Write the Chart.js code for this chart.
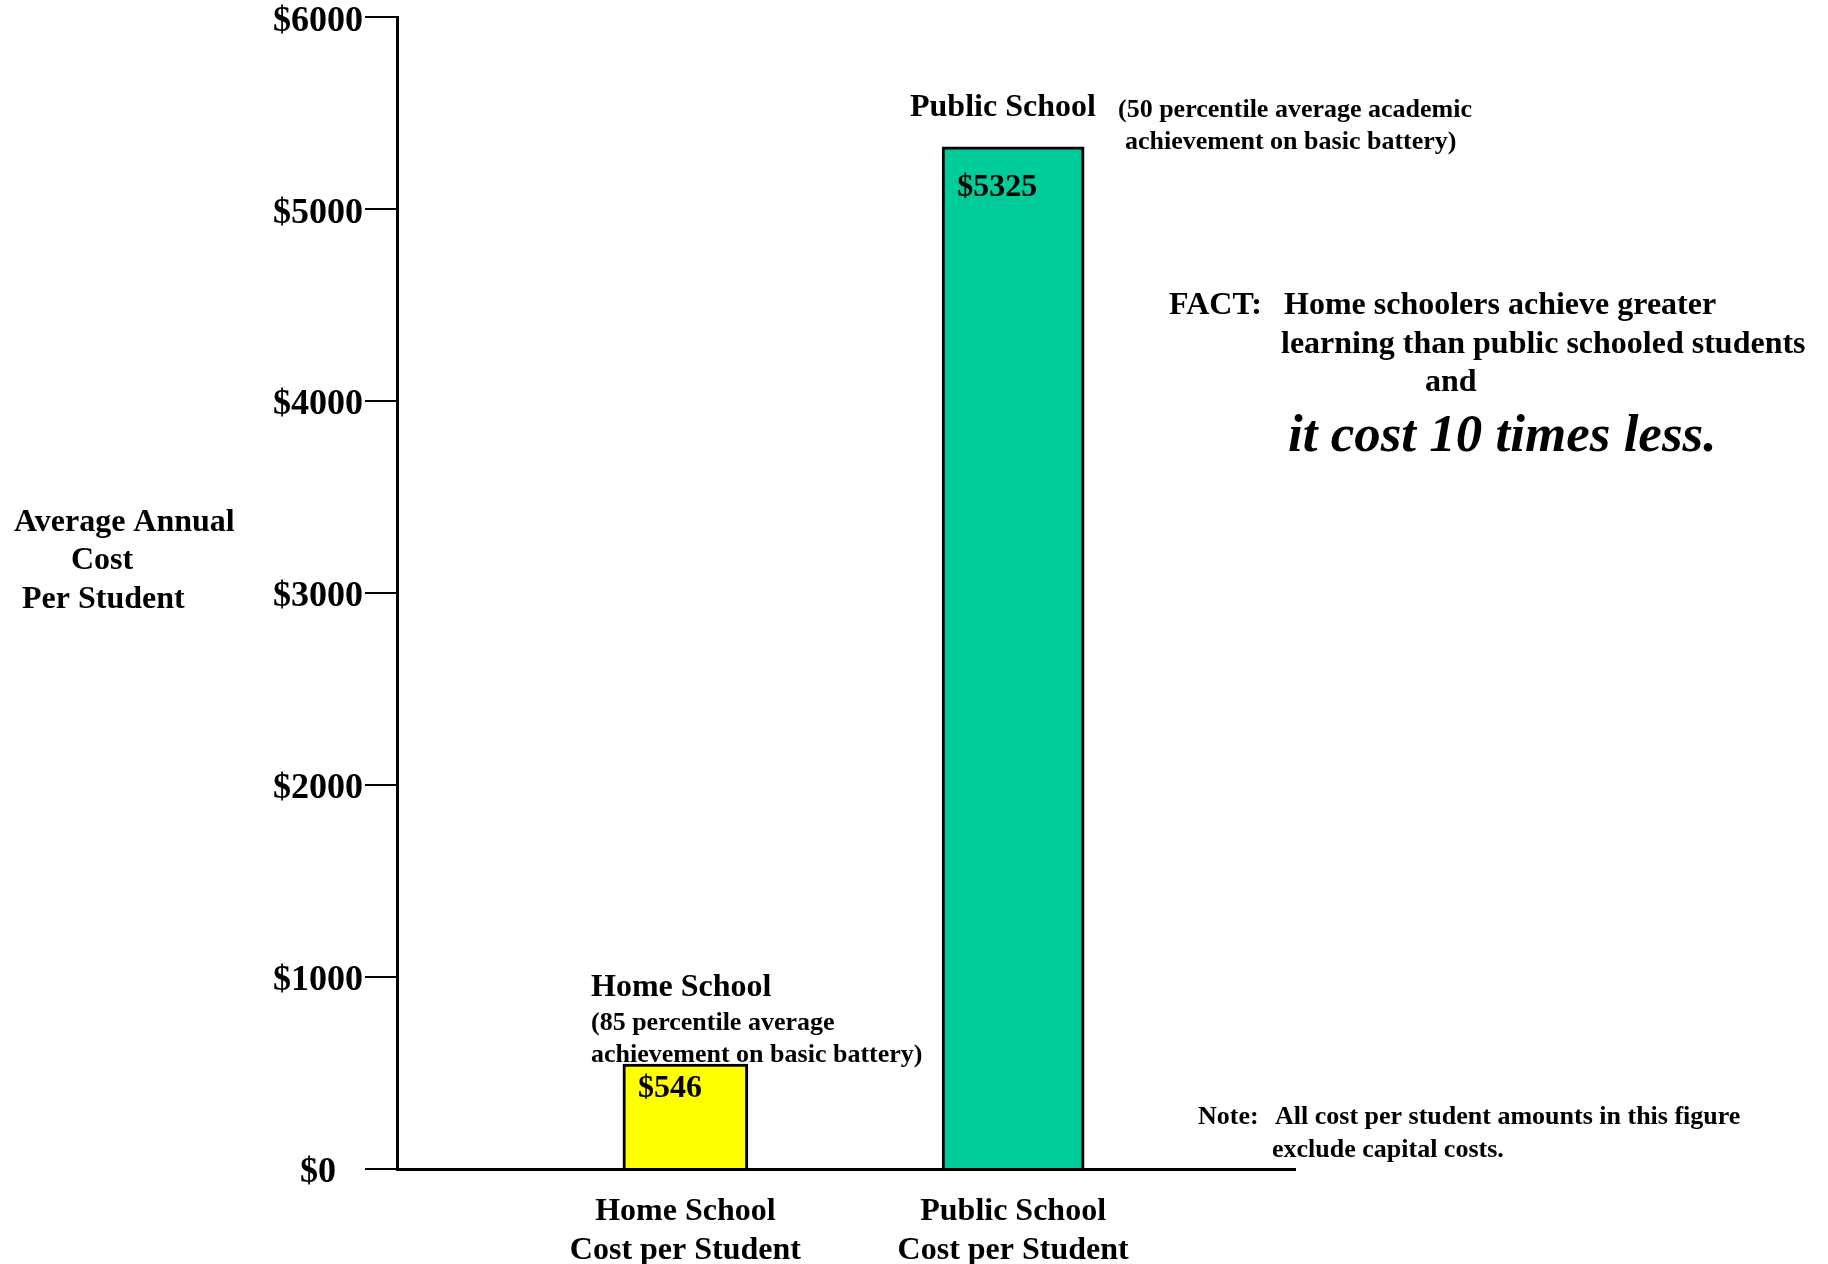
<!DOCTYPE html>
<html>
<head>
<meta charset="utf-8">
<script src="https://cdn.jsdelivr.net/npm/chart.js@4"></script>
<style>
  html, body { margin: 0; padding: 0; background: #fff; }
  #wrap { width: 1828px; height: 1264px; position: relative; }
</style>
</head>
<body>
<div id="wrap"><canvas id="costChart"></canvas></div>
<script>
// data
const categories = ["Home School", "Public School"];
const costs = [546, 5325];
const valueLabels = ["$546", "$5325"];
const yTicks = [0, 1000, 2000, 3000, 4000, 5000, 6000];
const yTitle = ["Average Annual", "Cost", "Per Student"];
const homeNote = ["Home School", "(85 percentile average", "achievement on basic battery)"];
const publicNote = ["Public School", "(50 percentile average academic", "achievement on basic battery)"];
const factLines = ["FACT:", "Home schoolers achieve greater", "learning than public schooled students", "and"];
const factPunch = "it cost 10 times less.";
const footNote = ["Note:", "All cost per student amounts in this figure", "exclude capital costs."];

const barColors = ["#ffff00", "#00cc99"];
const barWidths = [125, 142];
const labelDrop = [22, 38];
const SERIF = "'Liberation Serif', 'Times New Roman', serif";

const textPlugin = {
  id: "textPlugin",
  afterDraw(chart) {
    const ctx = chart.ctx;
    ctx.save();
    ctx.fillStyle = "#000";
    ctx.textBaseline = "middle";
    ctx.textAlign = "left";
    const put = (t, x, y, size, style) => {
      ctx.font = (style || "bold") + " " + size + "px " + SERIF;
      ctx.fillText(t, x, y + 3);
    };

    // value labels inside the bars
    chart.data.datasets.forEach((ds, i) => {
      const bar = chart.getDatasetMeta(i).data[0];
      put(valueLabels[i], bar.x - bar.width / 2 + 15, bar.y + labelDrop[i], 32);
    });

    // y axis title
    put(yTitle[0], 14, 520, 32);
    put(yTitle[1], 71, 558, 32);
    put(yTitle[2], 22, 597, 32);

    // notes next to the bars
    put(homeNote[0], 591, 985, 32);
    put(homeNote[1], 591, 1020, 26);
    put(homeNote[2], 591, 1052, 26);
    put(publicNote[0], 910, 105, 32);
    put(publicNote[1], 1118, 107, 26);
    put(publicNote[2], 1125, 139, 26);

    // fact box
    put(factLines[0], 1169, 303, 32);
    put(factLines[1], 1284, 303, 32);
    put(factLines[2], 1281, 342, 32);
    put(factLines[3], 1425, 380, 32);
    put(factPunch, 1288, 434, 53, "italic bold");

    // footnote
    put(footNote[0], 1198, 1114, 26);
    put(footNote[1], 1275, 1114, 26);
    put(footNote[2], 1272, 1147, 26);
    ctx.restore();
  }
};

new Chart(document.getElementById("costChart"), {
  type: "bar",
  data: {
    datasets: categories.map((c, i) => ({
      label: c,
      data: [{ x: i + 1, y: costs[i] }],
      backgroundColor: barColors[i],
      borderColor: "#000",
      borderWidth: 3,
      borderSkipped: "start",
      barThickness: barWidths[i],
    })),
  },
  options: {
    responsive: true,
    maintainAspectRatio: false,
    animation: false,
    grouped: false,
    layout: { padding: { top: 16, right: 533, left: 0, bottom: 0 } },
    plugins: { legend: { display: false }, tooltip: { enabled: false } },
    scales: {
      x: {
        type: "linear",
        offset: false,
        min: 0.12,
        max: 2.86,
        afterBuildTicks: (s) => { s.ticks = categories.map((c, i) => ({ value: i + 1 })); },
        afterFit: (s) => { s.height = 95; },
        grid: { display: false },
        border: { display: true, color: "#000", width: 3 },
        ticks: {
          autoSkip: false,
          maxRotation: 0,
          padding: 15,
          color: "#000",
          font: { family: SERIF, size: 32, weight: "bold", lineHeight: 1.22 },
          callback: (v) => [categories[v - 1], "Cost per Student"],
        },
      },
      y: {
        min: 0,
        max: 6000,
        afterBuildTicks: (s) => { s.ticks = yTicks.map((v) => ({ value: v })); },
        afterFit: (s) => { s.width = 397; },
        grid: { drawOnChartArea: false, drawTicks: true, tickLength: 32, color: "#000", lineWidth: 2 },
        border: { display: true, color: "#000", width: 3 },
        ticks: {
          crossAlign: "center",
          padding: 2,
          labelOffset: 4,
          color: "#000",
          font: { family: SERIF, size: 36, weight: "bold", lineHeight: 0.85 },
          callback: (v) => "$" + v,
        },
      },
    },
  },
  plugins: [textPlugin],
});
</script>
</body>
</html>
